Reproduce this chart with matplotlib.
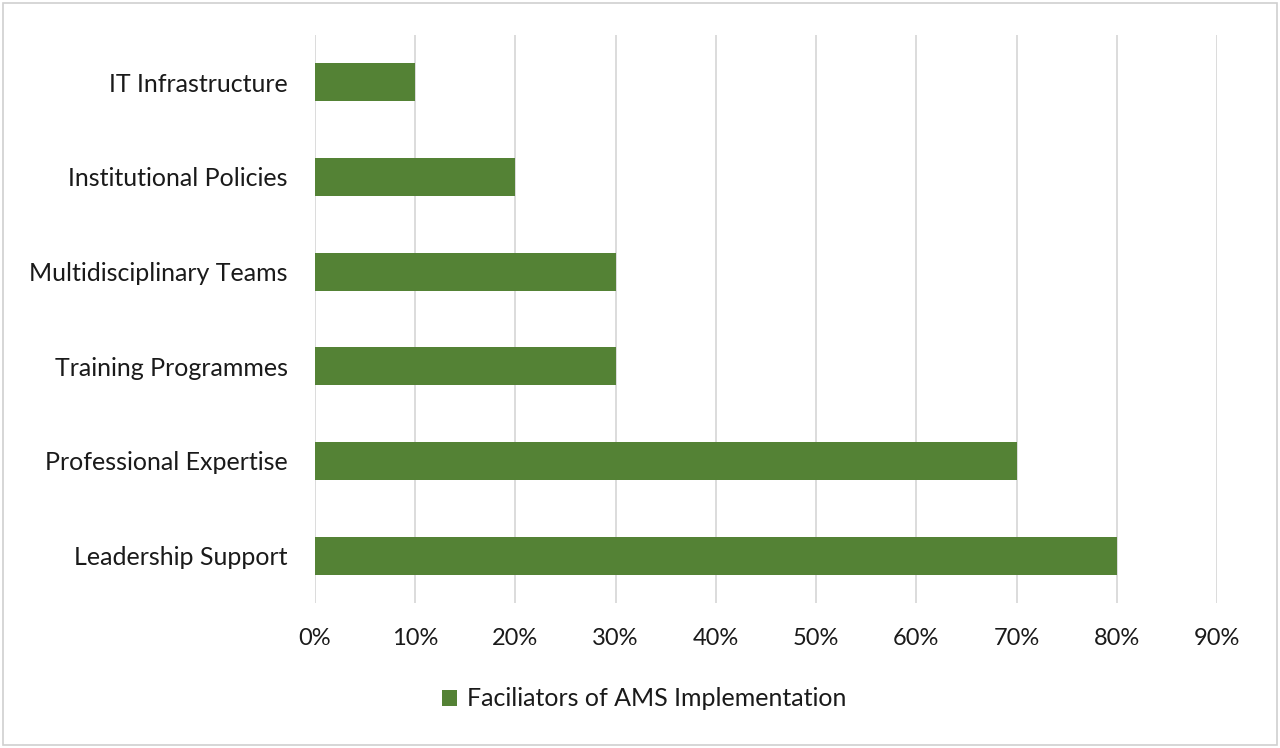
import numpy as np
import matplotlib.pyplot as plt
from matplotlib.patches import Rectangle
from matplotlib.ticker import FuncFormatter

# data, top to bottom as shown
categories = ['IT Infrastructure', 'Institutional Policies', 'Multidisciplinary Teams',
              'Training Programmes', 'Professional Expertise', 'Leadership Support']
values = [10, 20, 30, 30, 70, 80]
series_name = 'Faciliators of AMS Implementation'

green = '#548235'
plt.rcParams['font.family'] = ['Lato', 'DejaVu Sans']

fig = plt.figure(figsize=(12.8, 7.48), dpi=100)
ax = fig.add_axes([315/1280, 1 - 603/748, (1217 - 315)/1280, (603 - 35)/748])

y = np.arange(len(categories))
ax.barh(y, values, height=0.4, color=green, zorder=3, label=series_name)
ax.set_ylim(len(categories) - 0.5, -0.5)
ax.set_xlim(0, 90)
ax.set_xticks(np.arange(0, 91, 10))
ax.xaxis.set_major_formatter(FuncFormatter(lambda v, p: f'{v:.0f}%'))
ax.set_yticks(y)
ax.set_yticklabels(categories)

ax.grid(axis='x', color='#d9d9d9', linewidth=1.3, zorder=0)
for s in ax.spines.values():
    s.set_visible(False)
ax.tick_params(axis='both', length=0, colors='#1a1a1a')
ax.tick_params(axis='x', pad=18, labelsize=17)
ax.tick_params(axis='y', pad=19.5, labelsize=18)

fig.legend(loc='center', bbox_to_anchor=(0.503, 1 - 699/748), frameon=False,
           fontsize=18, handlelength=0.6, handleheight=0.6, handletextpad=0.4,
           labelcolor='#1a1a1a')

fig.patches.append(Rectangle((3/1280, 3/748), 1274/1280, 742/748, transform=fig.transFigure,
                             fill=False, edgecolor='#d0d0d0', linewidth=1.2))

fig.savefig('out.png', dpi=100)
